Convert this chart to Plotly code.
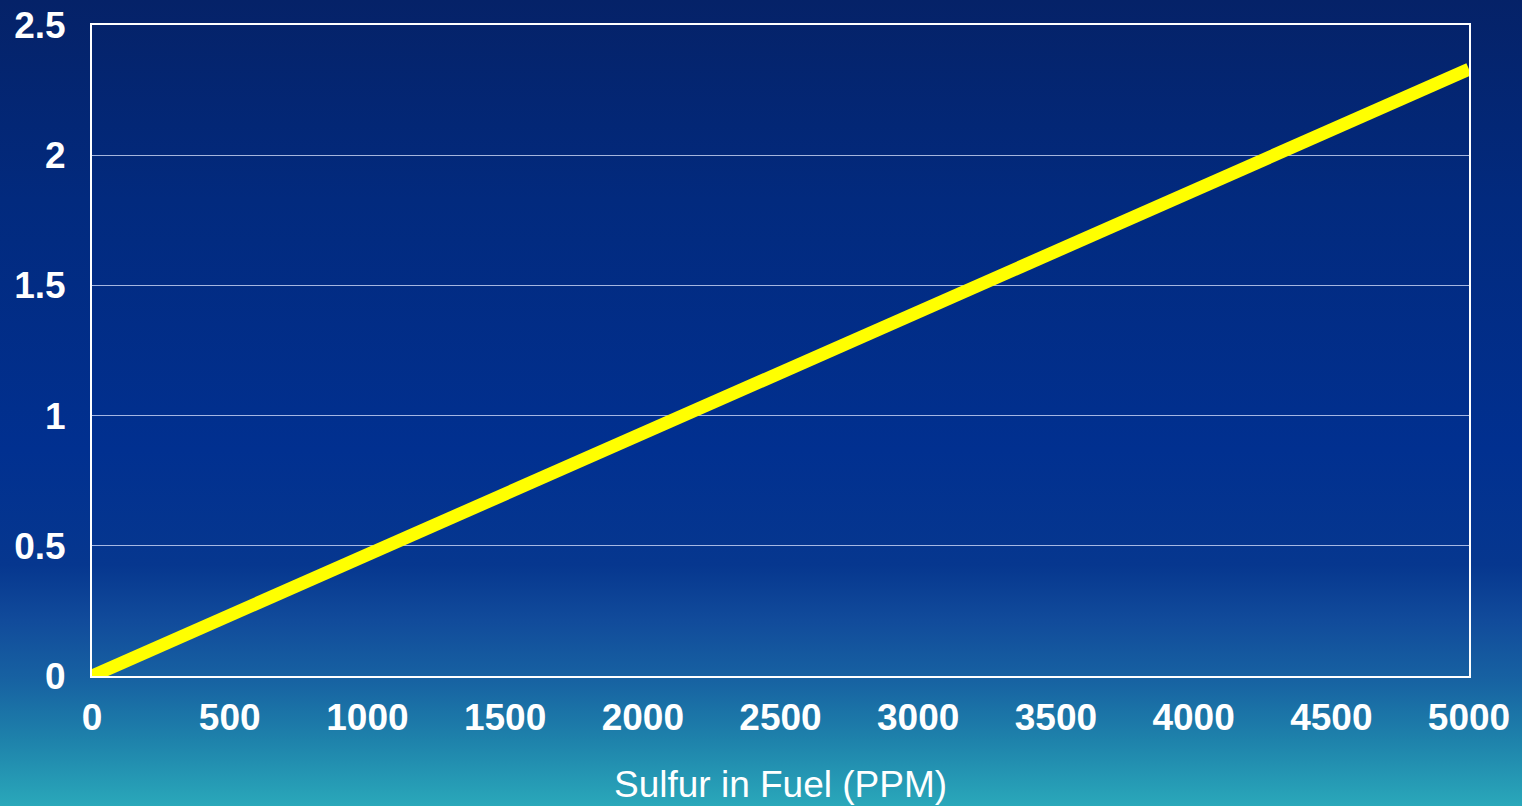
import plotly.graph_objects as go
import urllib.parse

# Sulfur content in fuel (ppm) and the resulting value on the y axis
sulfur_ppm = [0, 1000, 2000, 3000, 4000, 5000]
y_values = [0.0, 0.466, 0.932, 1.398, 1.864, 2.33]

x_ticks = [0, 500, 1000, 1500, 2000, 2500, 3000, 3500, 4000, 4500, 5000]
y_ticks = [0, 0.5, 1, 1.5, 2, 2.5]
y_tick_text = ["0", "0.5", "1", "1.5", "2", "2.5"]

W, H = 1522, 806
ML, MR, MT, MB = 92, 53, 25, 130
PW, PH = W - ML - MR, H - MT - MB
BLEED = 6  # extra pixels so the background covers every edge

# vertical background gradient (navy to teal) as an inline SVG
stops = [
    (0, "#052268"),
    (200, "#022a7e"),
    (450, "#013090"),
    (565, "#06378f"),
    (620, "#114b9b"),
    (680, "#1762a2"),
    (740, "#1e82ab"),
    (806, "#2aa8ba"),
]
GH = H + 2 * BLEED
stop_xml = "".join(
    f'<stop offset="{(y + BLEED) / GH:.4f}" stop-color="{c}"/>' for y, c in stops
)
svg = (
    f'<svg xmlns="http://www.w3.org/2000/svg" width="{W + 2 * BLEED}" height="{GH}" '
    f'viewBox="0 0 {W + 2 * BLEED} {GH}" preserveAspectRatio="none">'
    f'<defs><linearGradient id="g" x1="0" y1="0" x2="0" y2="1">'
    f'<stop offset="0" stop-color="{stops[0][1]}"/>{stop_xml}'
    f'<stop offset="1" stop-color="{stops[-1][1]}"/>'
    f'</linearGradient></defs><rect width="{W + 2 * BLEED}" height="{GH}" fill="url(#g)"/></svg>'
)
bg_uri = "data:image/svg+xml;charset=utf-8," + urllib.parse.quote(svg)

font_family = "Arial, 'Liberation Sans', sans-serif"

fig = go.Figure()
fig.add_trace(
    go.Scatter(
        x=sulfur_ppm,
        y=y_values,
        mode="lines",
        line=dict(color="#ffff00", width=13),
        hoverinfo="skip",
        showlegend=False,
    )
)

tick_font = dict(size=37, family=font_family, color="white", weight="bold")

fig.update_layout(
    width=W,
    height=H,
    autosize=False,
    margin=dict(l=ML, r=MR, t=MT, b=MB, pad=0, autoexpand=False),
    paper_bgcolor="#0a3a8f",
    plot_bgcolor="rgba(0,0,0,0)",
    font=dict(family=font_family, color="white"),
    images=[
        dict(
            source=bg_uri,
            xref="paper",
            yref="paper",
            x=-(ML + BLEED) / PW,
            y=1 + (MT + BLEED) / PH,
            sizex=(W + 2 * BLEED) / PW,
            sizey=GH / PH,
            xanchor="left",
            yanchor="top",
            sizing="stretch",
            layer="below",
        )
    ],
    xaxis=dict(
        range=[0, 5000],
        tickvals=x_ticks,
        ticktext=[str(v) for v in x_ticks],
        showgrid=False,
        zeroline=False,
        showline=True,
        mirror=True,
        linecolor="white",
        linewidth=2,
        ticks="",
        automargin=False,
        ticklabelstandoff=8,
        tickfont=tick_font,
    ),
    yaxis=dict(
        range=[0, 2.5],
        tickvals=y_ticks,
        ticktext=y_tick_text,
        showgrid=True,
        gridcolor="rgba(220,228,255,0.75)",
        gridwidth=1,
        zeroline=False,
        showline=True,
        mirror=True,
        linecolor="white",
        linewidth=2,
        ticks="",
        automargin=False,
        ticklabelstandoff=17,
        tickfont=tick_font,
    ),
    annotations=[
        dict(
            text="Sulfur in Fuel (PPM)",
            xref="paper",
            yref="paper",
            x=0.5,
            y=-(784 - (MT + PH)) / PH,
            xanchor="center",
            yanchor="middle",
            showarrow=False,
            font=dict(size=37, family=font_family, color="white"),
        )
    ],
)

fig.write_html("out.html")
